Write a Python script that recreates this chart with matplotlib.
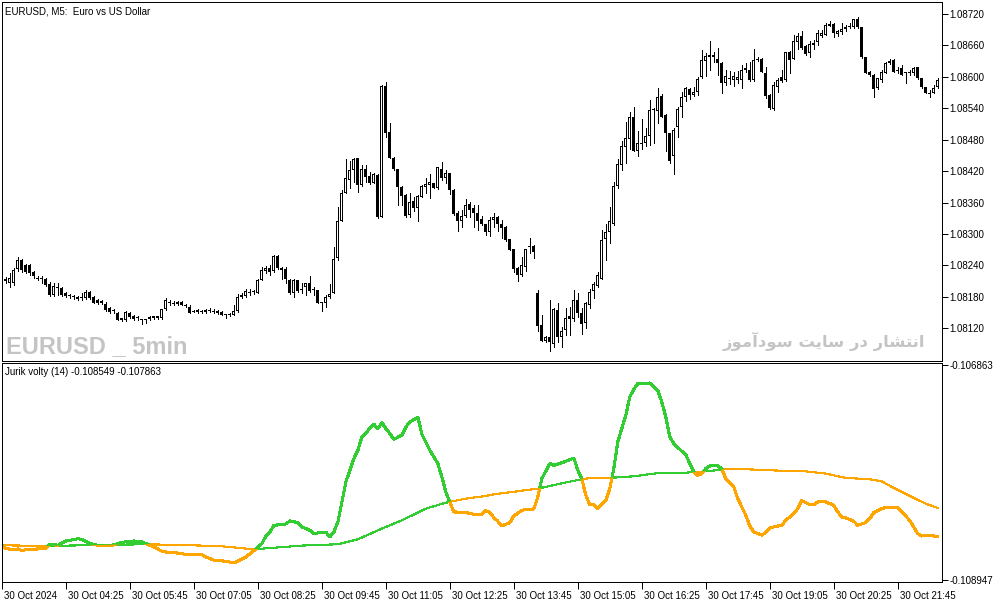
import matplotlib

matplotlib.use("Agg")

import matplotlib.pyplot as plt
import matplotlib.transforms as mtransforms
import numpy as np
from matplotlib import font_manager
from matplotlib.patches import Polygon

W, H, DPI = 994, 603, 100

# EURUSD M5 candles, bars 1..234 (bar 0 = 30 Oct 03:05)
opens = [
    1.08210, 1.08207, 1.08207, 1.08233, 1.08250, 1.08241, 1.08241, 1.08227, 1.08216, 1.08216,
    1.08214, 1.08205, 1.08184, 1.08199, 1.08197, 1.08187, 1.08182, 1.08180, 1.08180, 1.08178,
    1.08178, 1.08189, 1.08179, 1.08174, 1.08172, 1.08167, 1.08158, 1.08154, 1.08149, 1.08139,
    1.08136, 1.08149, 1.08143, 1.08140, 1.08137, 1.08135, 1.08138, 1.08139, 1.08140, 1.08140,
    1.08156, 1.08170, 1.08168, 1.08166, 1.08170, 1.08164, 1.08161, 1.08153, 1.08155, 1.08152,
    1.08151, 1.08154, 1.08153, 1.08153, 1.08151, 1.08146, 1.08145, 1.08146, 1.08153, 1.08183,
    1.08182, 1.08189, 1.08189, 1.08188, 1.08213, 1.08230, 1.08235, 1.08229, 1.08258, 1.08235,
    1.08234, 1.08213, 1.08187, 1.08212, 1.08195, 1.08199, 1.08207, 1.08194, 1.08193, 1.08169,
    1.08169, 1.08180, 1.08188, 1.08254, 1.08325, 1.08379, 1.08403, 1.08422, 1.08445, 1.08394,
    1.08425, 1.08411, 1.08398, 1.08413, 1.08333, 1.08583, 1.08495, 1.08446, 1.08424, 1.08390,
    1.08374, 1.08336, 1.08363, 1.08349, 1.08371, 1.08390, 1.08394, 1.08397, 1.08387, 1.08425,
    1.08406, 1.08416, 1.08384, 1.08341, 1.08324, 1.08334, 1.08357, 1.08350, 1.08341, 1.08328,
    1.08319, 1.08304, 1.08327, 1.08333, 1.08320, 1.08314, 1.08290, 1.08271, 1.08235, 1.08222,
    1.08238, 1.08276, 1.08277, 1.08187, 1.08126, 1.08096, 1.08103, 1.08091, 1.08155, 1.08103,
    1.08117, 1.08144, 1.08137, 1.08175, 1.08149, 1.08130, 1.08164, 1.08192, 1.08201, 1.08215,
    1.08290, 1.08304, 1.08320, 1.08392, 1.08432, 1.08467, 1.08481, 1.08524, 1.08459, 1.08472,
    1.08473, 1.08487, 1.08537, 1.08535, 1.08563, 1.08527, 1.08492, 1.08449, 1.08504, 1.08542,
    1.08561, 1.08576, 1.08565, 1.08572, 1.08600, 1.08631, 1.08638, 1.08638, 1.08635, 1.08627,
    1.08589, 1.08597, 1.08594, 1.08594, 1.08594, 1.08616, 1.08613, 1.08594, 1.08632, 1.08635,
    1.08608, 1.08565, 1.08538, 1.08581, 1.08600, 1.08594, 1.08648, 1.08635, 1.08667, 1.08678,
    1.08659, 1.08645, 1.08661, 1.08667, 1.08678, 1.08680, 1.08701, 1.08701, 1.08682, 1.08686,
    1.08691, 1.08696, 1.08695, 1.08710, 1.08696, 1.08637, 1.08610, 1.08604, 1.08578, 1.08594,
    1.08608, 1.08626, 1.08632, 1.08614, 1.08616, 1.08608, 1.08607, 1.08607, 1.08618, 1.08597,
    1.08580, 1.08569, 1.08570, 1.08580,
]
highs = [
    1.08218, 1.08226, 1.08235, 1.08256, 1.08252, 1.08243, 1.08243, 1.08229, 1.08220, 1.08219,
    1.08216, 1.08208, 1.08207, 1.08207, 1.08199, 1.08189, 1.08186, 1.08184, 1.08182, 1.08187,
    1.08193, 1.08191, 1.08182, 1.08176, 1.08174, 1.08170, 1.08161, 1.08157, 1.08151, 1.08140,
    1.08153, 1.08151, 1.08145, 1.08144, 1.08138, 1.08138, 1.08144, 1.08144, 1.08144, 1.08157,
    1.08177, 1.08174, 1.08172, 1.08172, 1.08172, 1.08166, 1.08164, 1.08155, 1.08156, 1.08155,
    1.08156, 1.08159, 1.08157, 1.08155, 1.08153, 1.08147, 1.08149, 1.08164, 1.08185, 1.08188,
    1.08195, 1.08196, 1.08193, 1.08214, 1.08238, 1.08239, 1.08241, 1.08260, 1.08260, 1.08237,
    1.08237, 1.08214, 1.08214, 1.08213, 1.08207, 1.08207, 1.08219, 1.08199, 1.08194, 1.08170,
    1.08184, 1.08205, 1.08275, 1.08352, 1.08384, 1.08443, 1.08440, 1.08445, 1.08445, 1.08432,
    1.08432, 1.08419, 1.08417, 1.08414, 1.08584, 1.08591, 1.08511, 1.08447, 1.08424, 1.08392,
    1.08376, 1.08379, 1.08371, 1.08374, 1.08394, 1.08406, 1.08415, 1.08397, 1.08428, 1.08438,
    1.08422, 1.08416, 1.08385, 1.08343, 1.08345, 1.08366, 1.08362, 1.08355, 1.08355, 1.08334,
    1.08320, 1.08333, 1.08340, 1.08334, 1.08327, 1.08315, 1.08290, 1.08271, 1.08238, 1.08257,
    1.08271, 1.08292, 1.08279, 1.08194, 1.08145, 1.08105, 1.08174, 1.08158, 1.08168, 1.08123,
    1.08158, 1.08161, 1.08194, 1.08187, 1.08158, 1.08170, 1.08196, 1.08209, 1.08228, 1.08308,
    1.08320, 1.08352, 1.08400, 1.08443, 1.08478, 1.08514, 1.08532, 1.08542, 1.08497, 1.08519,
    1.08502, 1.08556, 1.08540, 1.08578, 1.08567, 1.08529, 1.08493, 1.08502, 1.08543, 1.08572,
    1.08581, 1.08578, 1.08581, 1.08600, 1.08651, 1.08646, 1.08669, 1.08648, 1.08656, 1.08628,
    1.08613, 1.08612, 1.08610, 1.08612, 1.08623, 1.08626, 1.08629, 1.08653, 1.08638, 1.08636,
    1.08619, 1.08567, 1.08591, 1.08597, 1.08614, 1.08647, 1.08649, 1.08680, 1.08683, 1.08688,
    1.08661, 1.08669, 1.08670, 1.08690, 1.08690, 1.08703, 1.08707, 1.08702, 1.08690, 1.08702,
    1.08699, 1.08702, 1.08710, 1.08715, 1.08696, 1.08638, 1.08611, 1.08605, 1.08598, 1.08613,
    1.08629, 1.08635, 1.08634, 1.08619, 1.08623, 1.08610, 1.08613, 1.08619, 1.08619, 1.08598,
    1.08581, 1.08574, 1.08584, 1.08597,
]
lows = [
    1.08207, 1.08199, 1.08203, 1.08229, 1.08227, 1.08226, 1.08222, 1.08216, 1.08212, 1.08207,
    1.08201, 1.08182, 1.08182, 1.08184, 1.08182, 1.08180, 1.08178, 1.08176, 1.08174, 1.08174,
    1.08176, 1.08176, 1.08168, 1.08167, 1.08166, 1.08153, 1.08150, 1.08149, 1.08135, 1.08134,
    1.08134, 1.08140, 1.08136, 1.08135, 1.08129, 1.08131, 1.08136, 1.08137, 1.08138, 1.08138,
    1.08155, 1.08164, 1.08164, 1.08164, 1.08164, 1.08161, 1.08149, 1.08151, 1.08150, 1.08150,
    1.08150, 1.08151, 1.08150, 1.08147, 1.08145, 1.08139, 1.08143, 1.08145, 1.08151, 1.08178,
    1.08180, 1.08184, 1.08186, 1.08187, 1.08212, 1.08226, 1.08222, 1.08227, 1.08233, 1.08215,
    1.08207, 1.08185, 1.08180, 1.08190, 1.08187, 1.08184, 1.08189, 1.08184, 1.08168, 1.08154,
    1.08161, 1.08178, 1.08187, 1.08250, 1.08324, 1.08378, 1.08387, 1.08400, 1.08381, 1.08392,
    1.08400, 1.08396, 1.08397, 1.08330, 1.08332, 1.08486, 1.08445, 1.08423, 1.08355, 1.08355,
    1.08333, 1.08333, 1.08343, 1.08324, 1.08370, 1.08379, 1.08368, 1.08387, 1.08386, 1.08403,
    1.08397, 1.08376, 1.08337, 1.08306, 1.08314, 1.08332, 1.08333, 1.08314, 1.08308, 1.08317,
    1.08298, 1.08296, 1.08314, 1.08306, 1.08292, 1.08287, 1.08269, 1.08228, 1.08211, 1.08220,
    1.08229, 1.08264, 1.08254, 1.08115, 1.08095, 1.08094, 1.08077, 1.08085, 1.08094, 1.08085,
    1.08107, 1.08107, 1.08134, 1.08142, 1.08110, 1.08120, 1.08158, 1.08177, 1.08199, 1.08214,
    1.08250, 1.08283, 1.08317, 1.08388, 1.08422, 1.08436, 1.08462, 1.08458, 1.08448, 1.08462,
    1.08468, 1.08469, 1.08474, 1.08512, 1.08523, 1.08459, 1.08435, 1.08415, 1.08485, 1.08524,
    1.08553, 1.08557, 1.08563, 1.08565, 1.08597, 1.08602, 1.08613, 1.08629, 1.08604, 1.08570,
    1.08584, 1.08586, 1.08583, 1.08588, 1.08578, 1.08610, 1.08593, 1.08593, 1.08631, 1.08609,
    1.08559, 1.08538, 1.08537, 1.08572, 1.08591, 1.08593, 1.08607, 1.08634, 1.08653, 1.08654,
    1.08642, 1.08638, 1.08653, 1.08661, 1.08676, 1.08679, 1.08698, 1.08677, 1.08678, 1.08682,
    1.08688, 1.08693, 1.08694, 1.08694, 1.08636, 1.08607, 1.08602, 1.08561, 1.08577, 1.08591,
    1.08607, 1.08625, 1.08609, 1.08607, 1.08603, 1.08589, 1.08604, 1.08604, 1.08596, 1.08579,
    1.08569, 1.08562, 1.08569, 1.08579,
]
closes = [
    1.08214, 1.08216, 1.08231, 1.08250, 1.08231, 1.08228, 1.08226, 1.08219, 1.08215, 1.08215,
    1.08203, 1.08184, 1.08201, 1.08197, 1.08184, 1.08181, 1.08181, 1.08180, 1.08176, 1.08179,
    1.08189, 1.08178, 1.08169, 1.08169, 1.08168, 1.08155, 1.08152, 1.08153, 1.08136, 1.08135,
    1.08151, 1.08142, 1.08138, 1.08139, 1.08136, 1.08136, 1.08142, 1.08143, 1.08143, 1.08156,
    1.08174, 1.08169, 1.08167, 1.08170, 1.08164, 1.08163, 1.08150, 1.08152, 1.08151, 1.08153,
    1.08155, 1.08155, 1.08152, 1.08149, 1.08146, 1.08145, 1.08148, 1.08154, 1.08180, 1.08180,
    1.08192, 1.08188, 1.08190, 1.08213, 1.08231, 1.08235, 1.08228, 1.08258, 1.08235, 1.08232,
    1.08214, 1.08187, 1.08213, 1.08192, 1.08194, 1.08206, 1.08192, 1.08193, 1.08169, 1.08168,
    1.08180, 1.08186, 1.08252, 1.08325, 1.08379, 1.08406, 1.08422, 1.08443, 1.08394, 1.08424,
    1.08409, 1.08397, 1.08414, 1.08333, 1.08583, 1.08493, 1.08446, 1.08424, 1.08389, 1.08373,
    1.08334, 1.08361, 1.08349, 1.08373, 1.08392, 1.08395, 1.08400, 1.08387, 1.08427, 1.08406,
    1.08417, 1.08384, 1.08338, 1.08325, 1.08334, 1.08355, 1.08346, 1.08341, 1.08325, 1.08319,
    1.08304, 1.08327, 1.08333, 1.08319, 1.08311, 1.08289, 1.08269, 1.08233, 1.08222, 1.08241,
    1.08271, 1.08277, 1.08266, 1.08124, 1.08096, 1.08103, 1.08094, 1.08156, 1.08104, 1.08114,
    1.08139, 1.08137, 1.08175, 1.08149, 1.08128, 1.08168, 1.08190, 1.08205, 1.08222, 1.08289,
    1.08304, 1.08324, 1.08392, 1.08434, 1.08468, 1.08483, 1.08524, 1.08459, 1.08473, 1.08474,
    1.08487, 1.08537, 1.08536, 1.08561, 1.08524, 1.08492, 1.08440, 1.08499, 1.08538, 1.08561,
    1.08578, 1.08565, 1.08572, 1.08596, 1.08632, 1.08640, 1.08641, 1.08642, 1.08627, 1.08589,
    1.08602, 1.08596, 1.08602, 1.08599, 1.08613, 1.08613, 1.08594, 1.08632, 1.08635, 1.08610,
    1.08563, 1.08540, 1.08584, 1.08594, 1.08593, 1.08647, 1.08633, 1.08668, 1.08678, 1.08655,
    1.08644, 1.08663, 1.08665, 1.08683, 1.08684, 1.08699, 1.08698, 1.08683, 1.08688, 1.08691,
    1.08696, 1.08697, 1.08710, 1.08695, 1.08637, 1.08608, 1.08604, 1.08576, 1.08597, 1.08610,
    1.08627, 1.08631, 1.08610, 1.08612, 1.08604, 1.08607, 1.08608, 1.08616, 1.08597, 1.08580,
    1.08570, 1.08568, 1.08578, 1.08594,
]

# Jurik volty (14): fast line and its signal, read at bar positions
fast_bars = [
    0, 1, 3, 4, 5, 6, 8, 10, 11, 12, 14, 15, 16, 18, 19, 20, 22, 24, 25, 27,
    29, 30, 33, 35, 36, 38, 40, 41, 43, 45, 46, 48, 50, 51, 53, 55, 56, 58, 59, 61,
    63, 65, 66, 67, 68, 70, 71, 72, 74, 75, 77, 78, 79, 81, 82, 83, 84, 85, 86, 88,
    89, 90, 92, 93, 94, 95, 96, 97, 98, 100, 101, 102, 104, 105, 107, 109, 110, 111, 112, 113,
    115, 116, 118, 120, 121, 122, 123, 124, 125, 127, 128, 130, 131, 133, 134, 135, 137, 138, 140, 141,
    143, 144, 145, 146, 147, 148, 149, 151, 152, 153, 154, 156, 157, 158, 159, 161, 162, 164, 165, 166,
    167, 168, 170, 171, 172, 173, 174, 175, 176, 177, 179, 180, 181, 183, 184, 186, 187, 188, 190, 191,
    192, 193, 195, 196, 198, 199, 200, 202, 203, 204, 206, 208, 209, 210, 211, 213, 214, 216, 217, 218,
    220, 221, 224, 225, 227, 229, 230, 231, 233, 234,
]
fast_vals = [
    -0.108602, -0.108640, -0.108650, -0.108644, -0.108660, -0.108650, -0.108647, -0.108640, -0.108634, -0.108598,
    -0.108608, -0.108585, -0.108566, -0.108553, -0.108543, -0.108553, -0.108592, -0.108608, -0.108612, -0.108614,
    -0.108592, -0.108579, -0.108566, -0.108576, -0.108592, -0.108624, -0.108666, -0.108673, -0.108679, -0.108689,
    -0.108699, -0.108695, -0.108699, -0.108721, -0.108753, -0.108760, -0.108763, -0.108779, -0.108760, -0.108721,
    -0.108660, -0.108592, -0.108518, -0.108479, -0.108414, -0.108408, -0.108401, -0.108372, -0.108388, -0.108430,
    -0.108463, -0.108498, -0.108488, -0.108482, -0.108527, -0.108479, -0.108382, -0.108188, -0.107994, -0.107768,
    -0.107687, -0.107558, -0.107477, -0.107435, -0.107477, -0.107419, -0.107477, -0.107526, -0.107581, -0.107540,
    -0.107461, -0.107413, -0.107367, -0.107530, -0.107687, -0.107816, -0.107946, -0.108091, -0.108188, -0.108285,
    -0.108288, -0.108291, -0.108308, -0.108308, -0.108272, -0.108291, -0.108340, -0.108375, -0.108421, -0.108388,
    -0.108324, -0.108269, -0.108262, -0.108256, -0.108140, -0.107962, -0.107816, -0.107833, -0.107807, -0.107794,
    -0.107762, -0.107881, -0.107962, -0.108123, -0.108214, -0.108214, -0.108253, -0.108172, -0.108059, -0.107865,
    -0.107606, -0.107348, -0.107170, -0.107096, -0.107041, -0.107041, -0.107035, -0.107106, -0.107219, -0.107364,
    -0.107558, -0.107620, -0.107697, -0.107729, -0.107816, -0.107897, -0.107930, -0.107913, -0.107865, -0.107839,
    -0.107839, -0.107865, -0.107962, -0.108043, -0.108156, -0.108317, -0.108421, -0.108479, -0.108510, -0.108485,
    -0.108440, -0.108430, -0.108414, -0.108366, -0.108301, -0.108253, -0.108175, -0.108214, -0.108214, -0.108188,
    -0.108188, -0.108220, -0.108285, -0.108333, -0.108343, -0.108375, -0.108414, -0.108388, -0.108350, -0.108291,
    -0.108253, -0.108243, -0.108243, -0.108285, -0.108366, -0.108495, -0.108518, -0.108511, -0.108518, -0.108521,
]
slow_bars = [
    0, 11, 25, 36, 50, 55, 63, 75, 84, 89, 94, 100, 106, 111, 116, 121, 123, 134, 140, 145,
    148, 152, 158, 165, 171, 176, 181, 186, 194, 201, 206, 211, 217, 220, 223, 228, 231, 234,
]
slow_vals = [
    -0.108608, -0.108615, -0.108605, -0.108598, -0.108611, -0.108618, -0.108647, -0.108611, -0.108598, -0.108550,
    -0.108463, -0.108366, -0.108253, -0.108195, -0.108156, -0.108130, -0.108114, -0.108059, -0.108007, -0.107968,
    -0.107952, -0.107955, -0.107939, -0.107904, -0.107904, -0.107891, -0.107871, -0.107871, -0.107884, -0.107891,
    -0.107913, -0.107955, -0.107968, -0.107988, -0.108052, -0.108149, -0.108204, -0.108246,
]

price_ticks = [1.08120, 1.08180, 1.08240, 1.08300, 1.08360, 1.08420, 1.08480, 1.08540, 1.08600, 1.08660, 1.08720]
ind_ticks = [-0.108947, -0.106863]
time_labels = [
    "30 Oct 2024", "30 Oct 04:25", "30 Oct 05:45", "30 Oct 07:05", "30 Oct 08:25",
    "30 Oct 09:45", "30 Oct 11:05", "30 Oct 12:25", "30 Oct 13:45", "30 Oct 15:05",
    "30 Oct 16:25", "30 Oct 17:45", "30 Oct 19:05", "30 Oct 20:25", "30 Oct 21:45",
]

GREEN = "#32cd32"
ORANGE = "#ffa500"
WATERMARK = "#c4c4c4"
PRICE_LIM = (1.080582, 1.087429)

plt.rcParams["font.family"] = ["Liberation Sans", "DejaVu Sans"]


def px_rect(x0, y0, x1, y1):
    return [x0 / W, 1 - y1 / H, (x1 - x0) / W, (y1 - y0) / H]


def style_frame(ax):
    for spine in ax.spines.values():
        spine.set_linewidth(0.72)
        spine.set_color("black")
    ax.yaxis.tick_right()
    ax.tick_params(axis="y", direction="out", length=4, width=0.72, pad=1.5, labelsize=7)


fig = plt.figure(figsize=(W / DPI, H / DPI), dpi=DPI, facecolor="white")
ax_p = fig.add_axes(px_rect(2, 2, 942, 360.7))
ax_i = fig.add_axes(px_rect(2, 363.3, 942, 582), sharex=ax_p)

# --- price panel ---
o, hi, lo, c = (np.array(a) for a in (opens, highs, lows, closes))
bars = np.arange(1, len(o) + 1)
up = c >= o
onepx = (PRICE_LIM[1] - PRICE_LIM[0]) / (360.7 - 2)
ax_p.vlines(bars, lo, hi, color="black", linewidth=0.72, antialiased=False, zorder=1)
ax_p.bar(bars, np.maximum(np.abs(c - o), onepx), bottom=np.minimum(o, c), width=0.75,
         color="black", linewidth=0, antialiased=False, zorder=2)
hollow = up & ((c - o) > 2 * onepx)
ax_p.bar(bars[hollow], (c - o)[hollow] - 2 * onepx, bottom=o[hollow] + onepx, width=0.25,
         color="white", linewidth=0, antialiased=False, zorder=3)
ax_p.set_xlim(0.075, 235.075)
ax_p.set_ylim(*PRICE_LIM)
ax_p.set_yticks(price_ticks)
ax_p.set_yticklabels([f"{v:.5f}" for v in price_ticks])
style_frame(ax_p)
ax_p.tick_params(axis="x", bottom=False, labelbottom=False)

# --- indicator panel: green where fast >= signal, orange below ---
fb, fv = np.array(fast_bars, float), np.array(fast_vals)
sb, sv = np.array(slow_bars, float), np.array(slow_vals)
top, bot = -0.1060, -0.1100


def region(xs, ys, edge):
    px = np.r_[xs[0] - 5, xs, xs[-1] + 5, xs[-1] + 5, xs[0] - 5]
    py = np.r_[ys[0], ys, ys[-1], edge, edge]
    return Polygon(np.column_stack([px, py]), closed=True, transform=ax_i.transData)


for color, edge in ((GREEN, bot), (ORANGE, top)):
    (line,) = ax_i.plot(sb, sv, color=color, linewidth=0.8, antialiased=False)
    line.set_clip_path(region(fb, fv, edge))
for color, edge in ((GREEN, top), (ORANGE, bot)):
    (line,) = ax_i.plot(fb, fv, color=color, linewidth=1.5, antialiased=False)
    line.set_clip_path(region(sb, sv, edge))

ax_i.set_ylim(-0.108964, -0.106844)
ax_i.set_yticks(ind_ticks)
ax_i.set_yticklabels([f"{v:.6f}" for v in ind_ticks])
style_frame(ax_i)
ax_i.set_xticks(np.arange(0, 16 * len(time_labels), 16))
ax_i.set_xticklabels(time_labels)
ax_i.tick_params(axis="x", direction="out", length=5, width=0.72, pad=1.5, labelsize=7)
shift = mtransforms.ScaledTranslation(1.5 / 72, 0, fig.dpi_scale_trans)
for lbl in ax_i.get_xticklabels():
    lbl.set_horizontalalignment("left")
    lbl.set_transform(lbl.get_transform() + shift)

# --- texts ---
fig.text(5 / W, 1 - 12 / H, "EURUSD, M5:  Euro vs US Dollar", fontsize=7, va="center")
fig.text(5 / W, 1 - 372 / H, "Jurik volty (14) -0.108549 -0.107863", fontsize=7, va="center")

installed = {f.name for f in font_manager.fontManager.ttflist}
if "Liberation Sans Narrow" in installed:
    wm_family, wm_size = "Liberation Sans Narrow", 21
else:
    wm_family, wm_size = "Liberation Sans", 17
fig.text(6 / W, 1 - 353 / H, "EURUSD _ 5min", fontsize=wm_size, fontweight="bold",
         family=[wm_family], color=WATERMARK, va="baseline")
persian = ("\uFEAF\uFEEE\uFEE3\uFE81\uFEA9\uFEEE\uFEB3 \uFE96\uFBFE\uFE8E\uFEB3 "
           "\uFEAD\uFEA9 \uFEAD\uFE8E\uFEB8\uFE98\uFEE7\uFE8D")
fig.text(925 / W, 1 - 341 / H, persian, fontsize=11.8, fontweight="bold",
         family=["DejaVu Sans"], color=WATERMARK, ha="right", va="center")

fig.savefig("out.png", dpi=DPI, facecolor="white")
